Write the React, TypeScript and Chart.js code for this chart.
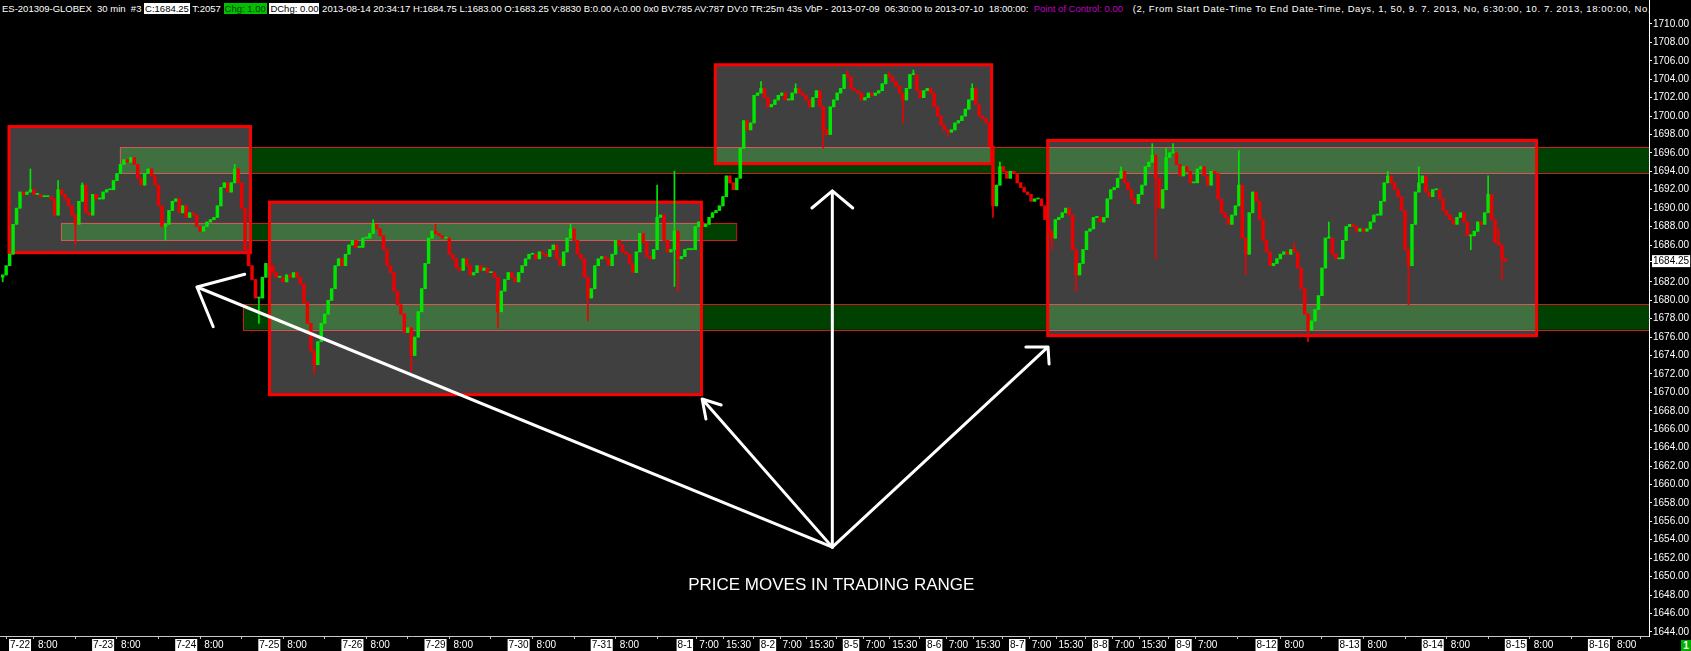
import React, { useEffect, useRef } from "react";
import { Chart, registerables } from "chart.js";

Chart.register(...registerables);

const FONT = '"Liberation Sans", Arial, sans-serif';

// ---- price data: hourly closes, bar 0 = 7-21 19:00 ----
const FIRST_OPEN = 1682.5;
const CLOSES = [
  1682.75, 1683.75, 1685.0, 1688.25, 1690.0, 1691.75, 1691.5, 1691.75, 1692.0, 1691.5,
  1691.5, 1691.25, 1691.25, 1691.25, 1691.0, 1689.25, 1692.0, 1691.5, 1691.0, 1690.25,
  1689.25, 1688.25, 1690.75, 1692.5, 1689.5, 1689.25, 1691.5, 1691.0, 1691.0, 1691.75,
  1692.0, 1692.0, 1693.0, 1693.75, 1694.75, 1695.25, 1695.0, 1695.5, 1694.75, 1693.25,
  1692.5, 1693.75, 1694.25, 1693.5, 1692.5, 1690.25, 1688.0, 1688.25, 1689.75, 1690.75,
  1691.0, 1689.5, 1690.25, 1689.0, 1689.5, 1689.25, 1688.0, 1687.5, 1688.0, 1688.5,
  1688.75, 1689.0, 1690.25, 1692.25, 1692.75, 1691.75, 1692.75, 1694.25, 1692.75, 1690.0,
  1685.5, 1683.75, 1682.25, 1680.25, 1680.25, 1682.5, 1684.0, 1683.75, 1683.0, 1682.5,
  1682.5, 1682.0, 1682.75, 1682.5, 1683.0, 1682.5, 1681.75, 1679.75, 1677.5, 1674.5,
  1673.0, 1675.5, 1677.5, 1678.5, 1680.0, 1681.25, 1683.75, 1684.5, 1683.75, 1685.0,
  1686.0, 1686.5, 1685.75, 1685.75, 1686.75, 1686.75, 1687.25, 1688.25, 1687.75, 1687.0,
  1685.5, 1683.75, 1683.0, 1681.0, 1679.5, 1678.5, 1676.5, 1677.0, 1674.0, 1676.0,
  1678.75, 1681.25, 1684.0, 1686.75, 1687.5, 1687.25, 1687.0, 1686.75, 1686.75, 1685.0,
  1684.5, 1683.5, 1683.25, 1684.5, 1683.75, 1682.75, 1683.0, 1683.75, 1683.25, 1683.5,
  1683.0, 1683.0, 1682.5, 1678.75, 1681.0, 1682.25, 1683.0, 1682.5, 1682.0, 1683.0,
  1683.75, 1684.5, 1685.0, 1685.0, 1684.5, 1685.25, 1685.0, 1684.75, 1685.5, 1686.0,
  1684.5, 1683.75, 1685.25, 1686.75, 1687.75, 1686.5, 1685.0, 1684.5, 1682.5, 1680.25,
  1681.25, 1683.75, 1684.5, 1684.75, 1684.5, 1683.75, 1685.0, 1686.5, 1686.0, 1685.25,
  1685.0, 1684.0, 1683.0, 1685.25, 1687.25, 1686.25, 1684.75, 1684.5, 1685.5, 1689.0,
  1689.25, 1686.5, 1685.25, 1685.5, 1687.5, 1684.5, 1684.75, 1685.5, 1685.5, 1685.5,
  1688.0, 1688.5, 1688.0, 1688.25, 1689.0, 1689.5, 1689.75, 1690.25, 1691.25, 1693.5,
  1692.75, 1692.0, 1693.25, 1696.5, 1699.5, 1698.5, 1699.25, 1702.25, 1702.5, 1703.0,
  1702.0, 1701.0, 1701.25, 1701.75, 1702.25, 1702.5, 1701.75, 1701.75, 1702.5, 1703.0,
  1702.5, 1702.25, 1701.75, 1701.0, 1702.0, 1702.75, 1701.0, 1698.5, 1698.0, 1701.0,
  1701.75, 1702.5, 1703.0, 1704.5, 1704.25, 1703.0, 1702.75, 1702.5, 1701.75, 1702.0,
  1702.5, 1702.25, 1702.5, 1702.75, 1703.5, 1704.5, 1704.25, 1703.75, 1703.25, 1702.5,
  1701.75, 1703.0, 1704.5, 1704.5, 1702.75, 1702.0, 1702.75, 1703.0, 1702.5, 1701.0,
  1700.0, 1699.0, 1698.5, 1698.25, 1698.5, 1699.25, 1699.5, 1700.0, 1700.75, 1701.75,
  1703.0, 1701.25, 1700.0, 1699.75, 1699.25, 1696.75, 1690.25, 1692.5, 1694.5, 1694.0,
  1693.25, 1694.0, 1693.75, 1692.75, 1692.25, 1691.75, 1691.5, 1690.75, 1691.0, 1691.0,
  1690.25, 1688.75, 1687.5, 1686.75, 1688.75, 1689.0, 1689.5, 1690.0, 1689.25, 1685.5,
  1682.75, 1684.0, 1685.5, 1687.5, 1687.75, 1689.0, 1689.0, 1688.5, 1689.0, 1691.0,
  1692.0, 1692.25, 1693.25, 1694.0, 1692.75, 1692.0, 1691.0, 1690.5, 1691.5, 1692.5,
  1694.5, 1695.0, 1695.75, 1693.25, 1690.0, 1692.0, 1695.5, 1696.0, 1696.0, 1694.75,
  1693.5, 1694.5, 1694.0, 1692.75, 1692.75, 1694.25, 1694.5, 1693.5, 1692.5, 1694.0,
  1693.75, 1691.0, 1689.5, 1689.0, 1688.25, 1689.25, 1690.25, 1692.5, 1686.75, 1685.0,
  1689.5, 1691.75, 1690.75, 1688.75, 1686.5, 1685.25, 1683.75, 1684.0, 1684.5, 1685.0,
  1685.25, 1685.0, 1685.5, 1685.25, 1683.5, 1681.25, 1678.5, 1676.75, 1677.75, 1679.0,
  1680.5, 1683.5, 1686.75, 1686.75, 1685.0, 1684.5, 1684.5, 1686.5, 1688.0, 1688.25,
  1688.0, 1687.5, 1687.75, 1687.5, 1687.75, 1688.5, 1689.25, 1689.25, 1690.75, 1692.75,
  1693.5, 1692.75, 1692.0, 1691.25, 1689.75, 1685.5, 1683.75, 1688.25, 1691.75, 1692.75,
  1693.5, 1691.75, 1691.25, 1692.0, 1692.0, 1691.0, 1689.75, 1689.25, 1688.75, 1688.25,
  1689.0, 1689.5, 1688.5, 1687.0, 1687.0, 1687.5, 1688.5, 1688.25, 1689.5, 1691.5,
  1688.75, 1686.25, 1686.0, 1684.5, 1684.25,
];
const SPIKE_HIGHS: [number, number][] = [
  [8, 1694.25], [16, 1693.0], [23, 1692.75], [67, 1694.75], [107, 1688.75], [125, 1688.25],
  [164, 1688.25], [189, 1692.5], [194, 1694.0], [219, 1703.75], [229, 1703.5], [244, 1705.0],
  [256, 1704.75], [263, 1705.0], [280, 1703.5], [288, 1695.0], [323, 1694.5], [332, 1697.0],
  [336, 1696.5], [338, 1697.0], [357, 1696.25], [373, 1686.25], [383, 1688.5], [400, 1694.0],
  [409, 1694.5], [429, 1693.5], [432, 1687.75],
];
const SPIKE_LOWS: [number, number][] = [
  [0, 1682.0], [21, 1686.0], [47, 1686.5], [74, 1677.5], [90, 1672.0], [118, 1672.25],
  [143, 1677.0], [169, 1677.75], [194, 1681.5], [195, 1681.0], [237, 1696.5], [260, 1699.25],
  [273, 1697.75], [286, 1689.0], [303, 1685.5], [310, 1681.0], [333, 1684.5], [359, 1682.75],
  [377, 1675.5], [406, 1679.5], [424, 1685.5], [433, 1682.25],
];
const LAST_PRICE = 1684.25;

// ---- axis labels ----
const DATE_LABELS = [
  "7-22", "7-23", "7-24", "7-25", "7-26", "7-29", "7-30", "7-31", "8-1", "8-2",
  "8-5", "8-6", "8-7", "8-8", "8-9", "8-12", "8-13", "8-14", "8-15", "8-16",
];
const DAY_TIME_LABELS: string[][] = [
  ["8:00"], ["8:00"], ["8:00"], ["8:00"], ["8:00"], ["8:00"], ["8:00"], ["8:00"],
  ["7:00", "15:30"], ["7:00", "15:30"], ["7:00", "15:30"], ["7:00", "15:30"],
  ["7:00", "15:30"], ["7:00", "15:30"], ["7:00"],
  ["8:00"], ["8:00"], ["8:00"], ["8:00"], ["8:00"],
];
const BARS_PER_DAY = 24;
const FIRST_DAY_BAR = 5;
const Y_TICK_VALUES = [
  1644, 1646, 1648, 1650, 1652, 1654, 1656, 1658, 1660, 1662, 1664, 1666, 1668, 1670,
  1672, 1674, 1676, 1678, 1680, 1682, 1684.25, 1686, 1688, 1690, 1692, 1694, 1696, 1698,
  1700, 1702, 1704, 1706, 1708, 1710,
];
const X_RANGE = [-0.78, 475.46];
const Y_RANGE = [1643.55, 1712.6];

// ---- annotations (bar index, price) ----
const BANDS = [
  { k0: 33.8, k1: 475.46, lo: 1693.8, hi: 1696.6 },
  { k0: 69.4, k1: 475.46, lo: 1676.8, hi: 1679.6 },
  { k0: 16.8, k1: 211.8, lo: 1686.54, hi: 1688.41 },
];
const BOXES = [
  { k0: 1.82, k1: 71.55, lo: 1685.17, hi: 1698.86 },
  { k0: 77.06, k1: 201.8, lo: 1669.75, hi: 1690.65 },
  { k0: 205.8, k1: 285.6, lo: 1694.83, hi: 1705.57 },
  { k0: 301.8, k1: 443.0, lo: 1676.16, hi: 1697.35 },
];
const ARROW_ORIGIN = [239.6, 1653.2];
const ARROW_TIPS = [[56.1, 1681.44], [202.0, 1669.28], [239.6, 1691.87], [301.9, 1674.93]];
const ARROW_BARBS = [
  [[69.9, 1682.82], [60.8, 1677.13]],
  [[207.5, 1668.63], [203.1, 1667.11]],
  [[233.7, 1690.02], [245.5, 1690.02]],
  [[295.5, 1674.93], [302.2, 1673.08]],
];
const NOTE_TEXT = "PRICE MOVES IN TRADING RANGE";
const NOTE_AT = [239.3, 1649.0];

const UP = "#00e600";
const DOWN = "#ee0000";

function buildCandles() {
  const hi = new Map(SPIKE_HIGHS);
  const lo = new Map(SPIKE_LOWS);
  const wicks: any[] = [];
  const bodies: any[] = [];
  const colors: string[] = [];
  CLOSES.forEach((c, k) => {
    const o = k === 0 ? FIRST_OPEN : CLOSES[k - 1];
    const h = Math.max(o, c, hi.get(k) ?? -Infinity);
    const l = Math.min(o, c, lo.get(k) ?? Infinity);
    wicks.push({ x: k, y: [l, h] });
    bodies.push({ x: k, y: [Math.min(o, c), Math.max(o, c)] });
    colors.push(c >= o ? UP : DOWN);
  });
  return { wicks, bodies, colors };
}

function buildXTicks() {
  const ticks: { value: number; label: string; date: boolean }[] = [];
  DATE_LABELS.forEach((d, i) => {
    const start = FIRST_DAY_BAR + BARS_PER_DAY * i;
    ticks.push({ value: start, label: d, date: true });
    DAY_TIME_LABELS[i].forEach((t) => {
      const [hh, mm] = t.split(":").map(Number);
      ticks.push({ value: start + hh + mm / 60, label: t, date: false });
    });
  });
  return ticks;
}

const overlayPlugin = {
  id: "overlay",
  beforeDatasetsDraw(chart: any) {
    const { ctx, chartArea, scales } = chart;
    const x = scales.x;
    const y = scales.y;
    ctx.save();
    ctx.beginPath();
    ctx.rect(chartArea.left, chartArea.top, chartArea.width, chartArea.height);
    ctx.clip();
    BANDS.forEach((b) => {
      const x0 = x.getPixelForValue(b.k0);
      const x1 = x.getPixelForValue(b.k1);
      const y0 = y.getPixelForValue(b.hi);
      const y1 = y.getPixelForValue(b.lo);
      ctx.fillStyle = "rgb(0,64,0)";
      ctx.fillRect(x0, y0, x1 - x0, y1 - y0);
      ctx.strokeStyle = "rgb(200,30,30)";
      ctx.lineWidth = 1;
      ctx.strokeRect(Math.round(x0) + 0.5, Math.round(y0) + 0.5, x1 - x0, Math.round(y1 - y0));
    });
    BOXES.forEach((b) => {
      const x0 = x.getPixelForValue(b.k0);
      const x1 = x.getPixelForValue(b.k1);
      const y0 = y.getPixelForValue(b.hi);
      const y1 = y.getPixelForValue(b.lo);
      ctx.fillStyle = "rgba(255,255,255,0.25)";
      ctx.fillRect(x0, y0, x1 - x0, y1 - y0);
    });
    BOXES.forEach((b) => {
      const x0 = x.getPixelForValue(b.k0);
      const x1 = x.getPixelForValue(b.k1);
      const y0 = y.getPixelForValue(b.hi);
      const y1 = y.getPixelForValue(b.lo);
      ctx.strokeStyle = "#ff0000";
      ctx.lineWidth = 3;
      ctx.strokeRect(x0, y0, x1 - x0, y1 - y0);
    });
    ctx.restore();
  },
  afterDatasetsDraw(chart: any) {
    const { ctx, scales } = chart;
    const x = scales.x;
    const y = scales.y;
    const px = (p: number[]) => [x.getPixelForValue(p[0]), y.getPixelForValue(p[1])];
    ctx.save();
    ctx.strokeStyle = "#ffffff";
    ctx.lineWidth = 3;
    ctx.lineCap = "round";
    ctx.lineJoin = "round";
    const [ox, oy] = px(ARROW_ORIGIN);
    ARROW_TIPS.forEach((tip, i) => {
      const [tx, ty] = px(tip);
      ctx.beginPath();
      ctx.moveTo(ox, oy);
      ctx.lineTo(tx, ty);
      ARROW_BARBS[i].forEach((b) => {
        const [bx, by] = px(b);
        ctx.moveTo(tx, ty);
        ctx.lineTo(bx, by);
      });
      ctx.stroke();
    });
    const [nx, ny] = px(NOTE_AT);
    ctx.fillStyle = "#ffffff";
    ctx.font = `17px ${FONT}`;
    ctx.textAlign = "center";
    ctx.textBaseline = "middle";
    ctx.fillText(NOTE_TEXT, nx, ny);
    ctx.restore();
  },
};

export default function App() {
  const ref = useRef<HTMLCanvasElement>(null);
  useEffect(() => {
    const { wicks, bodies, colors } = buildCandles();
    const xTicks = buildXTicks();
    const xLabel = new Map(xTicks.map((t) => [t.value, t]));
    const chart = new Chart(ref.current as HTMLCanvasElement, {
      type: "bar",
      data: {
        datasets: [
          {
            label: "wick",
            data: wicks,
            backgroundColor: colors,
            borderWidth: 0,
            barThickness: 1,
            grouped: false,
            order: 2,
          } as any,
          {
            label: "body",
            data: bodies,
            backgroundColor: colors,
            borderWidth: 0,
            barThickness: 2.8,
            minBarLength: 1,
            grouped: false,
            order: 1,
          } as any,
        ],
      },
      options: {
        animation: false,
        responsive: true,
        maintainAspectRatio: false,
        layout: { padding: 0 },
        plugins: { legend: { display: false }, tooltip: { enabled: false } },
        scales: {
          x: {
            type: "linear",
            min: X_RANGE[0],
            max: X_RANGE[1],
            bounds: "data",
            offset: false,
            afterBuildTicks: (scale: any) => {
              scale.ticks = xTicks.map((t) => ({ value: t.value }));
            },
            afterFit: (scale: any) => {
              scale.height = 15;
              scale.paddingLeft = 0;
              scale.paddingRight = 0;
            },
            ticks: {
              autoSkip: false,
              maxRotation: 0,
              minRotation: 0,
              padding: 0,
              font: { family: FONT, size: 10 },
              color: (c: any) => (xLabel.get(c.tick?.value)?.date ? "#000000" : "#ffffff"),
              showLabelBackdrop: (c: any) => !!xLabel.get(c.tick?.value)?.date,
              backdropColor: "#ffffff",
              backdropPadding: { top: 0, bottom: 0, left: 1, right: 1 },
              callback: (v: any) => xLabel.get(Number(v))?.label ?? "",
            },
            grid: { drawOnChartArea: false, drawTicks: true, tickLength: 3, color: "#c8c8c8" },
            border: { display: true, color: "#c8c8c8" },
          } as any,
          y: {
            type: "linear",
            position: "right",
            min: Y_RANGE[0],
            max: Y_RANGE[1],
            bounds: "data",
            afterBuildTicks: (scale: any) => {
              scale.ticks = Y_TICK_VALUES.map((v) => ({ value: v }));
            },
            afterFit: (scale: any) => {
              scale.width = 42;
              scale.paddingTop = 0;
              scale.paddingBottom = 0;
            },
            ticks: {
              padding: 1,
              font: { family: FONT, size: 10 },
              color: (c: any) => (c.tick?.value === LAST_PRICE ? "#000000" : "#ffffff"),
              showLabelBackdrop: (c: any) => c.tick?.value === LAST_PRICE,
              backdropColor: "#ffffff",
              backdropPadding: { top: 0, bottom: 0, left: 1, right: 1 },
              callback: (v: any) => Number(v).toFixed(2),
            },
            grid: { drawOnChartArea: false, drawTicks: true, tickLength: 3, color: "#ffffff" },
            border: { display: true, color: "#ffffff" },
          } as any,
        },
      },
      plugins: [overlayPlugin],
    });
    return () => chart.destroy();
  }, []);

  const box = (bg: string, fg: string): React.CSSProperties => ({
    background: bg,
    color: fg,
    padding: "0 1px",
  });

  return (
    <div
      style={{
        position: "fixed",
        left: 0,
        top: 0,
        width: 1691,
        height: 651,
        background: "#000",
        overflow: "hidden",
      }}
    >
      <canvas ref={ref} style={{ display: "block" }} />
      <div
        style={{
          position: "absolute",
          left: 0,
          top: 0,
          width: 1649,
          height: 17,
          overflow: "hidden",
          whiteSpace: "pre",
          color: "#fff",
          background: "#000",
          font: `9.5px ${FONT}`,
          lineHeight: "17px",
          paddingLeft: 2,
          boxSizing: "border-box",
        }}
      >
        <span>{"ES-201309-GLOBEX  30 min  #3 "}</span>
        <span style={box("#ffffff", "#000000")}>C:1684.25</span>
        <span>{" T:2057 "}</span>
        <span style={box("#00c000", "#0a3a0a")}>Chg: 1.00</span>
        <span>{" "}</span>
        <span style={box("#ffffff", "#000000")}>DChg: 0.00</span>
        <span>
          {
            " 2013-08-14 20:34:17 H:1684.75 L:1683.00 O:1683.25 V:8830 B:0.00 A:0.00 0x0 BV:785 AV:787 DV:0 TR:25m 43s VbP - 2013-07-09  06:30:00 to 2013-07-10  18:00:00:  "
          }
        </span>
        <span style={{ color: "#c000c0" }}>Point of Control: 0.00</span>
        <span style={{ letterSpacing: "0.6px" }}>
          {
            "   (2, From Start Date-Time To End Date-Time, Days, 1, 50, 9. 7. 2013, No, 6:30:00, 10. 7. 2013, 18:00:00, No,"
          }
        </span>
      </div>
      <div
        style={{
          position: "absolute",
          left: 1681,
          top: 640,
          width: 10,
          height: 11,
          background: "#00b000",
          color: "#fff",
          font: `bold 10px ${FONT}`,
          lineHeight: "11px",
          textAlign: "center",
        }}
      >
        1
      </div>
    </div>
  );
}
